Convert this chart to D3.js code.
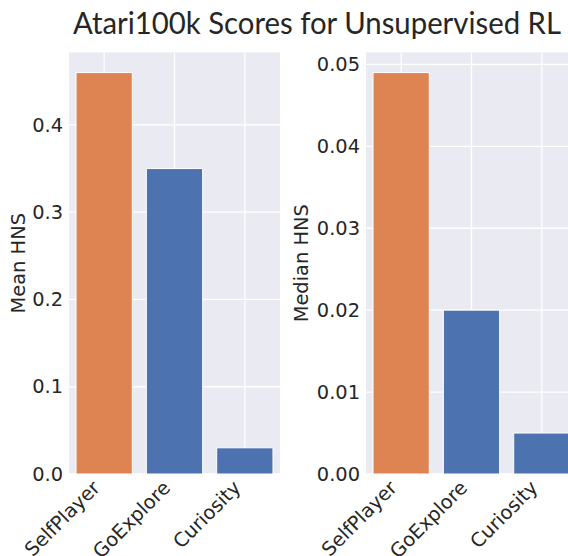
<!DOCTYPE html>
<html>
<head>
<meta charset="utf-8">
<script src="https://cdn.jsdelivr.net/npm/d3@7"></script>
<style>
  body { margin: 0; background: #fff; }
  svg text { fill: #262626; font-family: "DejaVu Sans", sans-serif; }
</style>
</head>
<body>
<div id="chart"></div>
<script>
// data
var methods = ["SelfPlayer", "GoExplore", "Curiosity"];
var meanHNS = [0.46, 0.35, 0.03];
var medianHNS = [0.049, 0.020, 0.005];
var meanTicks = [0.0, 0.1, 0.2, 0.3, 0.4];
var medianTicks = [0.00, 0.01, 0.02, 0.03, 0.04, 0.05];
var barColors = ["#dd8452", "#4c72b0", "#4c72b0"];

var w = 568, h = 556;
var plotTop = 52.5, plotBottom = 474;
var plotW = 211;
var fs = "19.4px";

var svg = d3.select("#chart").append("svg")
  .attr("width", w)
  .attr("height", h);

// title
svg.append("text")
  .attr("x", 317)
  .attr("y", 34)
  .attr("text-anchor", "middle")
  .style("font-family", "Lato, 'Open Sans', sans-serif")
  .style("font-size", "30px")
  .attr("textLength", 488)
  .attr("lengthAdjust", "spacingAndGlyphs")
  .text("Atari100k Scores for Unsupervised RL");

function drawPanel(left, values, ticks, fmt, label, labelX) {
  var g = svg.append("g").attr("transform", "translate(" + left + ",0)");

  var xScale = d3.scaleBand().domain(methods).range([0, plotW]).paddingInner(0.2).paddingOuter(0.1);
  var yScale = d3.scaleLinear().domain([0, d3.max(values) * 1.05]).range([plotBottom, plotTop]);

  // background
  g.append("rect")
    .attr("x", 0).attr("y", plotTop)
    .attr("width", plotW).attr("height", plotBottom - plotTop)
    .attr("fill", "#eaeaf2");

  // horizontal grid
  g.selectAll(".hgrid").data(ticks).enter().append("line")
    .attr("x1", 0).attr("x2", plotW)
    .attr("y1", function(d) { return yScale(d); })
    .attr("y2", function(d) { return yScale(d); })
    .attr("stroke", "#fff").attr("stroke-width", 1.3);

  // vertical grid at categories
  g.selectAll(".vgrid").data(methods).enter().append("line")
    .attr("x1", function(d) { return xScale(d) + xScale.bandwidth() / 2; })
    .attr("x2", function(d) { return xScale(d) + xScale.bandwidth() / 2; })
    .attr("y1", plotTop).attr("y2", plotBottom)
    .attr("stroke", "#fff").attr("stroke-width", 1.3);

  // bars
  g.selectAll(".bar").data(values).enter().append("rect")
    .attr("x", function(d, i) { return xScale(methods[i]); })
    .attr("y", function(d) { return yScale(d); })
    .attr("width", xScale.bandwidth())
    .attr("height", function(d) { return plotBottom - yScale(d); })
    .attr("fill", function(d, i) { return barColors[i]; })
    .attr("stroke", "#fff").attr("stroke-width", 1);

  // y axis
  var yAxis = d3.axisLeft(yScale).tickValues(ticks).tickFormat(d3.format(fmt)).tickSize(0).tickPadding(6);
  var ya = g.append("g").call(yAxis);
  ya.select(".domain").remove();
  ya.selectAll("text").style("font-size", fs).attr("fill", "#262626");

  // x tick labels, rotated 45
  g.selectAll(".xlab").data(methods).enter().append("text")
    .attr("transform", function(d) {
      return "translate(" + (xScale(d) + xScale.bandwidth() / 2 - 3) + "," + (plotBottom + 15) + ") rotate(-45)";
    })
    .attr("text-anchor", "end")
    .style("font-size", fs)
    .text(function(d) { return d; });

  // y label
  svg.append("text")
    .attr("transform", "translate(" + labelX + "," + ((plotTop + plotBottom) / 2) + ") rotate(-90)")
    .attr("text-anchor", "middle")
    .style("font-size", fs)
    .text(label);
}

drawPanel(69, meanHNS, meanTicks, ".1f", "Mean HNS", 25);
drawPanel(366, medianHNS, medianTicks, ".2f", "Median HNS", 308);
</script>
</body>
</html>
